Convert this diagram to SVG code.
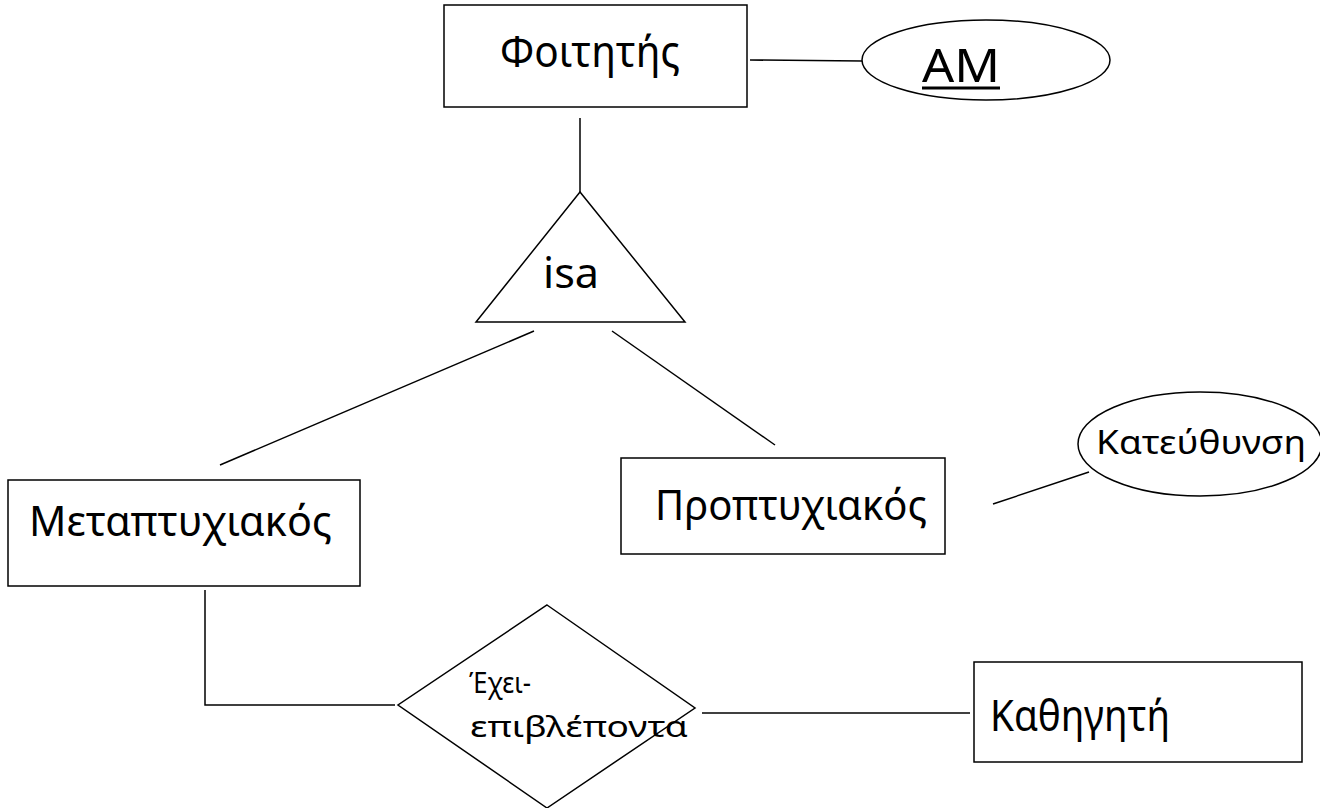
<svg xmlns="http://www.w3.org/2000/svg" width="1320" height="808" viewBox="0 0 1320 808">
<style>
.s{fill:#fff;stroke:#000;stroke-width:1.5}
.l{fill:none;stroke:#000;stroke-width:1.5}
text{font-family:"Noto Sans","Open Sans","DejaVu Sans",sans-serif;fill:#000}
</style>
<rect width="1320" height="808" fill="#fff"/>
<g id="connectors">
<line class="l" x1="750" y1="60" x2="862" y2="61"/>
<line class="l" x1="580" y1="118" x2="580" y2="192"/>
<line class="l" x1="534" y1="331" x2="220" y2="465"/>
<line class="l" x1="612" y1="331" x2="775" y2="445"/>
<line class="l" x1="993" y1="504" x2="1089" y2="472"/>
<polyline class="l" points="205,590 205,705 395,705"/>
<line class="l" x1="702" y1="713" x2="970" y2="713"/>
</g>
<g id="foititis">
<rect class="s" x="444" y="5" width="303" height="102"/>
<text x="500" y="67" font-size="43" textLength="180" lengthAdjust="spacingAndGlyphs">Φοιτητής</text>
</g>
<g id="am">
<ellipse class="s" cx="986" cy="60" rx="124" ry="40"/>
<text x="922" y="82" font-size="46" textLength="78" lengthAdjust="spacingAndGlyphs">AM</text>
<line x1="922" y1="88" x2="1000" y2="88" stroke="#000" stroke-width="3"/>
</g>
<g id="isa">
<polygon class="s" points="580,192 476,322 685,322"/>
<text x="543" y="288" font-size="41" textLength="56" lengthAdjust="spacingAndGlyphs">isa</text>
</g>
<g id="metaptyxiakos">
<rect class="s" x="8" y="480" width="352" height="106"/>
<text x="29" y="536" font-size="42" textLength="303" lengthAdjust="spacingAndGlyphs">Μεταπτυχιακός</text>
</g>
<g id="proptyxiakos">
<rect class="s" x="621" y="458" width="324" height="96"/>
<text x="655" y="520" font-size="42" textLength="272" lengthAdjust="spacingAndGlyphs">Προπτυχιακός</text>
</g>
<g id="kateuthynsi">
<ellipse class="s" cx="1200" cy="444" rx="122" ry="52"/>
<text x="1096" y="454" font-size="33" textLength="210" lengthAdjust="spacingAndGlyphs">Κατεύθυνση</text>
</g>
<g id="exei">
<polygon class="s" points="547,605 695,708 547,808 398,705"/>
<text x="469" y="693" font-size="29" textLength="62" lengthAdjust="spacingAndGlyphs">Έχει-</text>
<text x="470" y="737" font-size="29" textLength="218" lengthAdjust="spacingAndGlyphs">επιβλέποντα</text>
</g>
<g id="kathigitis">
<rect class="s" x="974" y="662" width="328" height="100"/>
<text x="990" y="731" font-size="43" textLength="180" lengthAdjust="spacingAndGlyphs">Καθηγητή</text>
</g>
</svg>
